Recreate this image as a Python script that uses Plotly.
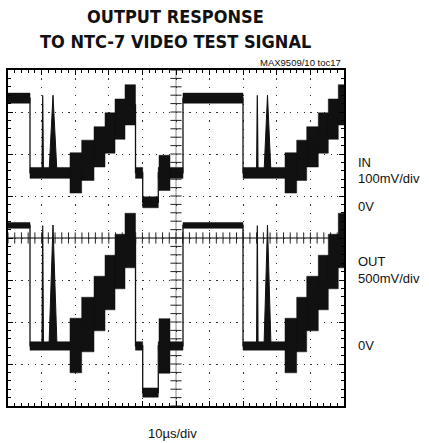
import plotly.graph_objects as go

# ---------------- data (time in µs, 10 µs/div; amplitude in screen divisions, 0 = bottom) -------------
SEG_START = [0.0, 6.55, 18.45, 21.93, 25.60, 28.87, 31.85, 34.82, 37.95, 40.09, 44.73,
             44.94, 48.21, 52.08, 69.94, 82.44, 85.92, 88.90, 92.35, 95.33, 98.30]
SEG_END = [6.55, 18.45, 21.93, 25.60, 28.87, 31.85, 34.82, 37.95, 40.09, 44.73, 44.94,
           48.21, 52.08, 69.94, 82.44, 85.92, 88.90, 92.35, 95.33, 98.30, 100.0]

IN_LEVEL = [7.33, 5.55, 5.55, 5.85, 6.17, 6.50, 6.83, 7.17, 5.55, 4.85, 5.55,
            5.55, 5.55, 7.33, 5.55, 5.55, 5.85, 6.17, 6.50, 6.83, 7.17]
IN_BAND = [0.12, 0.13, 0.48, 0.48, 0.48, 0.48, 0.48, 0.48, 0.13, 0.13, 0.13,
           0.42, 0.13, 0.12, 0.13, 0.48, 0.48, 0.48, 0.48, 0.48, 0.48]

OUT_LEVEL = [4.30, 1.43, 1.44, 1.94, 2.44, 2.94, 3.44, 3.94, 1.43, 0.32, 1.43,
             1.43, 1.43, 4.30, 1.43, 1.44, 1.94, 2.44, 2.94, 3.44, 3.94]
OUT_BAND = [0.07, 0.10, 0.65, 0.65, 0.65, 0.65, 0.65, 0.65, 0.10, 0.11, 0.10,
            0.65, 0.10, 0.07, 0.10, 0.65, 0.65, 0.65, 0.65, 0.65, 0.65]

SPIKE_T = [10.12, 10.33, 10.54, None, 73.99, 74.20, 74.41]
IN_SPIKE_V = [5.55, 7.40, 5.55, None, 5.55, 7.40, 5.55]
OUT_SPIKE_V = [1.43, 4.30, 1.43, None, 1.43, 4.30, 1.43]

PULSE_T = [12.20, 13.39, 14.58, None, 76.19, 77.23, 78.27]
IN_PULSE_V = [5.55, 7.40, 5.55, None, 5.55, 7.40, 5.55]
OUT_PULSE_V = [1.43, 4.31, 1.43, None, 1.43, 4.31, 1.43]

TITLE_LINES = ["OUTPUT RESPONSE", "TO NTC-7 VIDEO TEST SIGNAL"]
SIDE_LABELS = ["IN", "100mV/div", "0V", "OUT", "500mV/div", "0V"]
SIDE_LABEL_Y = [162, 178, 206, 261, 278, 345]  # pixel rows
X_LABEL = "10µs/div"
NOTE = "MAX9509/10 toc17"

INK = "#111111"

# ---------------- figure -------------
fig = go.Figure()

# centre graticule ticks
fig.add_trace(go.Scatter(x=[i * 2 for i in range(51)], y=[4] * 51, mode="markers",
                         marker=dict(symbol="line-ns", size=8, line=dict(width=1, color="#222")),
                         hoverinfo="skip"))
fig.add_trace(go.Scatter(x=[50] * 41, y=[i * 0.2 for i in range(41)], mode="markers",
                         marker=dict(symbol="line-ew", size=8, line=dict(width=1, color="#222")),
                         hoverinfo="skip"))


def bands(levels, halves):
    xs, ys = [], []
    for a, b, c, h in zip(SEG_START, SEG_END, levels, halves):
        xs += [a, b, b, a, a, None]
        ys += [c - h, c - h, c + h, c + h, c - h, None]
    return xs, ys


def centre(levels):
    xs, ys = [], []
    for a, b, c in zip(SEG_START, SEG_END, levels):
        xs += [a, b]
        ys += [c, c]
    return xs, ys


for lev, band, sv, pv in [(IN_LEVEL, IN_BAND, IN_SPIKE_V, IN_PULSE_V),
                          (OUT_LEVEL, OUT_BAND, OUT_SPIKE_V, OUT_PULSE_V)]:
    bx, by = bands(lev, band)
    fig.add_trace(go.Scatter(x=bx, y=by, mode="lines", fill="toself", fillcolor=INK,
                             line=dict(width=0.5, color=INK), hoverinfo="skip"))
    cx, cy = centre(lev)
    fig.add_trace(go.Scatter(x=cx, y=cy, mode="lines", line=dict(width=1.3, color=INK),
                             hoverinfo="skip"))
    fig.add_trace(go.Scatter(x=SPIKE_T, y=sv, mode="lines", fill="toself", fillcolor=INK,
                             line=dict(width=1.2, color=INK), hoverinfo="skip"))
    fig.add_trace(go.Scatter(x=PULSE_T, y=pv, mode="lines", fill="toself", fillcolor=INK,
                             line=dict(width=1, color=INK), hoverinfo="skip"))

# centre axes lines
fig.add_shape(type="line", x0=0, x1=100, y0=4, y1=4, line=dict(color="#555", width=1.5), layer="below")
fig.add_shape(type="line", x0=50, x1=50, y0=0, y1=8, line=dict(color="#888", width=1), layer="below")

L, R, T, B = 8, 85, 70, 37
W, H = 429 - L - R, 443 - T - B


def px2paper(x=None, y=None):
    return ((x - L) / W if x is not None else None, (443 - B - y) / H if y is not None else None)


ann = []
title_font = dict(family="Liberation Sans Narrow, Arial Narrow, DejaVu Sans Condensed, sans-serif",
                  size=18, color="#111")
for txt, yp in zip(TITLE_LINES, [17, 41.5]):
    ax_, ay_ = px2paper(175, yp)
    ann.append(dict(text="<b>" + txt + "</b>", x=ax_, y=ay_, xref="paper", yref="paper",
                    xanchor="center", yanchor="middle", showarrow=False, font=title_font))
nx, ny = px2paper(343, 62)
ann.append(dict(text=NOTE, x=nx, y=ny, xref="paper", yref="paper", xanchor="right",
                yanchor="middle", showarrow=False,
                font=dict(family="Liberation Sans, Arial, sans-serif", size=9.5, color="#111")))
for txt, yp in zip(SIDE_LABELS, SIDE_LABEL_Y):
    sx, sy = px2paper(356, yp)
    ann.append(dict(text=txt, x=sx, y=sy, xref="paper", yref="paper", xanchor="left",
                    yanchor="middle", showarrow=False,
                    font=dict(family="Liberation Sans, Arial, sans-serif", size=13, color="#111")))
lx, ly = px2paper(172, 433)
ann.append(dict(text=X_LABEL, x=lx, y=ly, xref="paper", yref="paper", xanchor="center",
                yanchor="middle", showarrow=False,
                font=dict(family="Liberation Sans, Arial, sans-serif", size=13, color="#111")))

fig.update_layout(width=429, height=443, margin=dict(l=L, r=R, t=T, b=B, pad=0),
                  plot_bgcolor="white", paper_bgcolor="white", showlegend=False,
                  annotations=ann)
fig.update_xaxes(range=[0, 100], dtick=10, tick0=0, showgrid=True, gridcolor="#333",
                 gridwidth=1.2, griddash="1.2px,7.2px", zeroline=False,
                 showline=True, linewidth=2, linecolor="black", mirror="allticks",
                 ticks="inside", ticklen=5, tickwidth=1, tickcolor="black", showticklabels=False,
                 minor=dict(dtick=2, ticks="inside", ticklen=3, tickwidth=1, tickcolor="black",
                            showgrid=False))
fig.update_yaxes(range=[0, 8], dtick=1, tick0=0, showgrid=True, gridcolor="#333",
                 gridwidth=1.2, griddash="1.2px,5.52px", zeroline=False,
                 showline=True, linewidth=2, linecolor="black", mirror="allticks",
                 ticks="inside", ticklen=5, tickwidth=1, tickcolor="black", showticklabels=False,
                 minor=dict(dtick=0.2, ticks="inside", ticklen=3, tickwidth=1, tickcolor="black",
                            showgrid=False))

fig.write_html("out.html", config={"displayModeBar": False},
               post_script="document.body.style.margin='0';")
